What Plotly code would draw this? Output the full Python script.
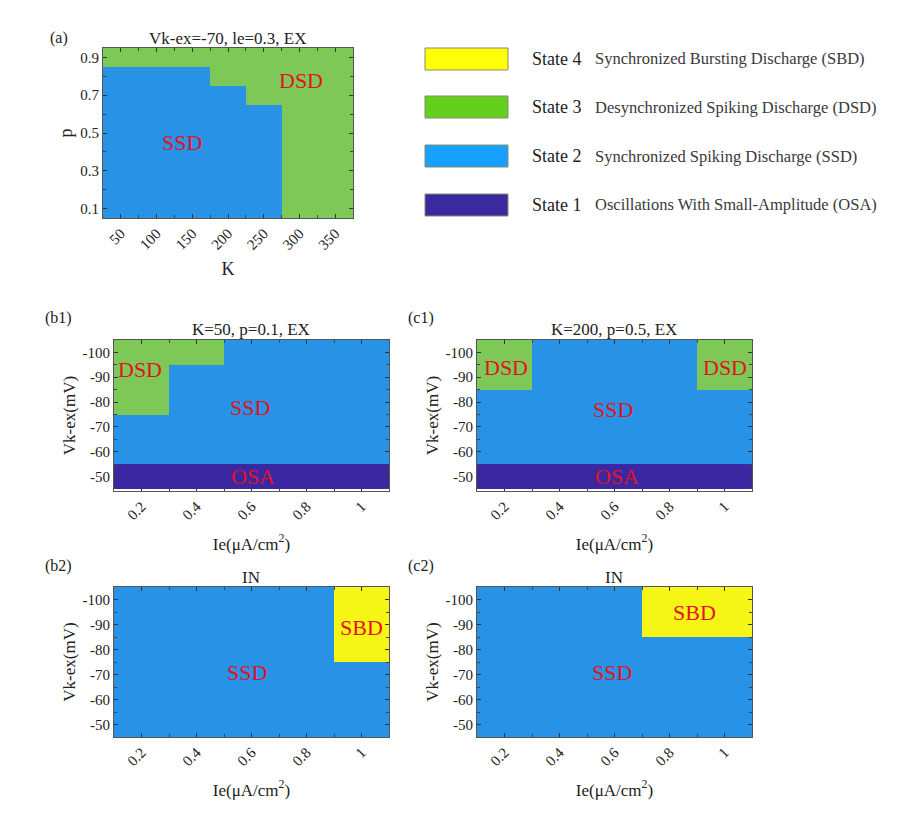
import plotly.graph_objects as go

W, H = 920, 823
OX, OY = 8, 8  # page body offset of the plot in the browser

# ---------------- data ----------------
K_vals = [50, 100, 150, 200, 250, 300, 350]
p_vals = [0.1, 0.2, 0.3, 0.4, 0.5, 0.6, 0.7, 0.8, 0.9]
# rows: p (0.1 .. 0.9), cols: K
state_a = [
    [2, 2, 2, 2, 2, 3, 3],
    [2, 2, 2, 2, 2, 3, 3],
    [2, 2, 2, 2, 2, 3, 3],
    [2, 2, 2, 2, 2, 3, 3],
    [2, 2, 2, 2, 2, 3, 3],
    [2, 2, 2, 2, 2, 3, 3],
    [2, 2, 2, 2, 3, 3, 3],
    [2, 2, 2, 3, 3, 3, 3],
    [3, 3, 3, 3, 3, 3, 3],
]

Ie_vals = [0.2, 0.4, 0.6, 0.8, 1.0]
Ie_ticktext = ["0.2", "0.4", "0.6", "0.8", "1"]
Vk_vals = [-100, -90, -80, -70, -60, -50]
# rows: Vk (-100 .. -50), cols: Ie
state_b1 = [
    [3, 3, 2, 2, 2],
    [3, 2, 2, 2, 2],
    [3, 2, 2, 2, 2],
    [2, 2, 2, 2, 2],
    [2, 2, 2, 2, 2],
    [1, 1, 1, 1, 1],
]
state_c1 = [
    [3, 2, 2, 2, 3],
    [3, 2, 2, 2, 3],
    [2, 2, 2, 2, 2],
    [2, 2, 2, 2, 2],
    [2, 2, 2, 2, 2],
    [1, 1, 1, 1, 1],
]
state_b2 = [
    [2, 2, 2, 2, 4],
    [2, 2, 2, 2, 4],
    [2, 2, 2, 2, 4],
    [2, 2, 2, 2, 2],
    [2, 2, 2, 2, 2],
    [2, 2, 2, 2, 2],
]
state_c2 = [
    [2, 2, 2, 4, 4],
    [2, 2, 2, 4, 4],
    [2, 2, 2, 2, 2],
    [2, 2, 2, 2, 2],
    [2, 2, 2, 2, 2],
    [2, 2, 2, 2, 2],
]

state_names = ["State 1", "State 2", "State 3", "State 4"]
state_desc = ["Oscillations With Small-Amplitude (OSA)",
              "Synchronized Spiking Discharge (SSD)",
              "Desynchronized Spiking Discharge (DSD)",
              "Synchronized Bursting Discharge (SBD)"]
map_colors = ["#3b27a2", "#2792e6", "#7dc856", "#f6f616"]
legend_colors = ["#3a2a9f", "#16a0ff", "#62d01c", "#ffff0a"]

# region labels (text, x, y) per panel
labels_a = [("SSD", 135, 0.45), ("DSD", 302, 0.78)]
labels_b1 = [("DSD", 0.195, -93), ("SSD", 0.595, -78), ("OSA", 0.605, -50)]
labels_c1 = [("DSD", 0.205, -94), ("DSD", 1.0, -94), ("SSD", 0.595, -77), ("OSA", 0.61, -50)]
labels_b2 = [("SBD", 1.0, -89), ("SSD", 0.585, -71)]
labels_c2 = [("SBD", 0.89, -95), ("SSD", 0.59, -71)]

# ---------------- layout helpers ----------------
FONT = "Liberation Serif"
RED = "#e01424"
TXT = "#222"

def px(x):
    return (x - OX) / W

def py(y):
    return 1 - (y - OY) / H

def xd(a, b):
    return [px(a), px(b)]

def yd(top, bot):
    return [py(bot), py(top)]

colorscale = []
for i, c in enumerate(map_colors):
    colorscale.append([i / 4, c])
    colorscale.append([(i + 1) / 4, c])

fig = go.Figure()

panels = [
    # name, x, y, z, xdom(px), ydom(px), labels
    ("a", K_vals, p_vals, state_a, (103, 353), (48, 218), labels_a),
    ("b1", Ie_vals, Vk_vals, state_b1, (114, 389), (340, 491), labels_b1),
    ("c1", Ie_vals, Vk_vals, state_c1, (477, 752), (340, 491), labels_c1),
    ("b2", Ie_vals, Vk_vals, state_b2, (114, 389), (587, 737), labels_b2),
    ("c2", Ie_vals, Vk_vals, state_c2, (477, 752), (587, 737), labels_c2),
]

axis_common = dict(showline=True, linecolor="#555", linewidth=1, mirror="allticks",
                   ticks="inside", ticklen=4, tickcolor="#333", showgrid=False,
                   zeroline=False, tickfont=dict(family=FONT, size=15, color=TXT))
minor_common = dict(ticks="inside", ticklen=3, tickcolor="#444")

layout = {}
annotations = []
for i, (name, x, y, z, xdp, ydp, labs) in enumerate(panels):
    n = "" if i == 0 else str(i + 1)
    fig.add_trace(go.Heatmap(x=x, y=y, z=z, colorscale=colorscale, zmin=0.5, zmax=4.5,
                             showscale=False, xaxis="x" + n, yaxis="y" + n,
                             hoverinfo="x+y+z"))
    xa = dict(axis_common, domain=xd(*xdp), anchor="y" + n, tickangle=-45)
    ya = dict(axis_common, domain=yd(*ydp), anchor="x" + n)
    if name == "a":
        xa.update(tickvals=K_vals, ticktext=[str(k) for k in K_vals],
                  minor=dict(minor_common, dtick=25, tick0=0),
                  title=dict(text="K", font=dict(family=FONT, size=18, color=TXT), standoff=10))
        ya.update(tickvals=p_vals[::2], ticktext=["%.1f" % v for v in p_vals[::2]],
                  minor=dict(minor_common, dtick=0.1, tick0=0),
                  title=dict(text="p", font=dict(family=FONT, size=18, color=TXT), standoff=2))
    else:
        xa.update(tickvals=Ie_vals, ticktext=Ie_ticktext,
                  minor=dict(minor_common, dtick=0.1, tick0=0.1),
                  title=dict(text="Ie(μA/cm<sup>2</sup>)", font=dict(family=FONT, size=17, color=TXT), standoff=15))
        ya.update(tickvals=Vk_vals, ticktext=[str(v) for v in Vk_vals], autorange="reversed",
                  minor=dict(minor_common, dtick=5, tick0=-105),
                  title=dict(text="Vk-ex(mV)", font=dict(family=FONT, size=17, color=TXT), standoff=2))
    layout["xaxis" + n] = xa
    layout["yaxis" + n] = ya
    for (t, lx, ly) in labs:
        annotations.append(dict(x=lx, y=ly, xref="x" + n, yref="y" + n, text=t, showarrow=False,
                                font=dict(family=FONT, size=22, color=RED)))

# panel tags and titles
tags = [("(a)", 59, 38), ("(b1)", 58, 318), ("(c1)", 421, 318), ("(b2)", 58, 566), ("(c2)", 421, 566)]
for t, tx, ty in tags:
    annotations.append(dict(x=px(tx), y=py(ty), xref="paper", yref="paper", text=t,
                            xanchor="center", yanchor="middle",
                            showarrow=False, font=dict(family=FONT, size=16, color=TXT)))
titles = [("Vk-ex=-70, le=0.3, EX", 228, 38), ("K=50, p=0.1, EX", 251, 329),
          ("K=200, p=0.5, EX", 614, 329), ("IN", 251, 577), ("IN", 614, 577)]
for t, tx, ty in titles:
    annotations.append(dict(x=px(tx), y=py(ty), xref="paper", yref="paper", text=t,
                            xanchor="center", yanchor="middle",
                            showarrow=False, font=dict(family=FONT, size=17, color=TXT)))

# legend (state boxes + texts)
shapes = []
leg_rows_y = [205, 156, 107, 59]  # centre y px for State 1..4
for i in range(4):
    cy = leg_rows_y[i]
    shapes.append(dict(type="rect", xref="paper", yref="paper",
                       x0=px(425), x1=px(508), y0=py(cy + 11), y1=py(cy - 11),
                       fillcolor=legend_colors[i], line=dict(color="#8a8a6a", width=1)))
    annotations.append(dict(x=px(530), y=py(cy), xref="paper", yref="paper",
                            xanchor="left", yanchor="middle",
                            text=state_names[i], showarrow=False,
                            font=dict(family=FONT, size=18, color=TXT)))
    annotations.append(dict(x=px(593), y=py(cy), xref="paper", yref="paper",
                            xanchor="left", yanchor="middle",
                            text=state_desc[i], showarrow=False,
                            font=dict(family=FONT, size=16.5, color="#3a3a3a")))

fig.update_layout(width=W, height=H, margin=dict(l=0, r=0, t=0, b=0),
                  paper_bgcolor="white", plot_bgcolor="white",
                  annotations=annotations, shapes=shapes, **layout)

fig.write_html("out.html")
